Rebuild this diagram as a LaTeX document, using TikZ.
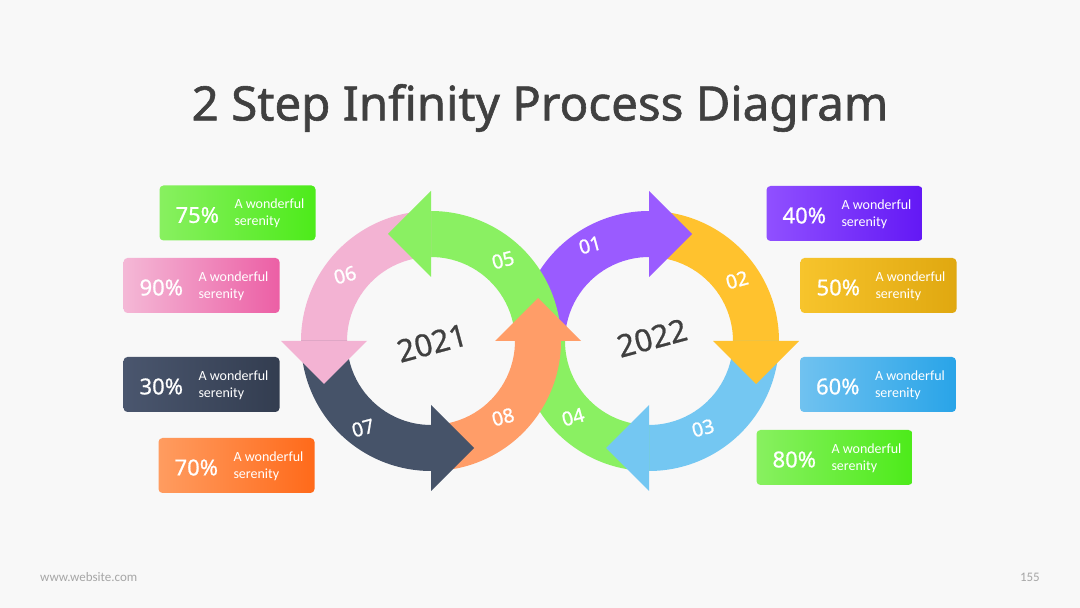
\documentclass[tikz,border=0pt]{standalone}
\usepackage{fontspec}
\setmainfont{Noto Sans}
\newfontfamily\semib[FakeBold=1.2]{Noto Sans}
\newfontfamily\semic[FakeBold=0.8]{Noto Sans}
\newfontfamily\boxfont{Carlito}
\usetikzlibrary{calc}
\definecolor{bgc}{HTML}{F8F8F8}
\definecolor{titlec}{HTML}{404040}
\definecolor{cpurple}{HTML}{9A5BFF}
\definecolor{cyellow}{HTML}{FFC22E}
\definecolor{cblue}{HTML}{74C7F2}
\definecolor{cgreen}{HTML}{8AF062}
\definecolor{cpink}{HTML}{F3B3D3}
\definecolor{cnavy}{HTML}{465369}
\definecolor{corange}{HTML}{FF9D68}
\definecolor{gA}{HTML}{88F060}\definecolor{gB}{HTML}{4DEB1A}
\definecolor{pA}{HTML}{F4B8D6}\definecolor{pB}{HTML}{EC5FA5}
\definecolor{nA}{HTML}{4A566E}\definecolor{nB}{HTML}{333D50}
\definecolor{oA}{HTML}{FF9C60}\definecolor{oB}{HTML}{FF6A1A}
\definecolor{uA}{HTML}{9050FF}\definecolor{uB}{HTML}{6318F5}
\definecolor{yA}{HTML}{F7C42C}\definecolor{yB}{HTML}{E0A810}
\definecolor{bA}{HTML}{70C2F0}\definecolor{bB}{HTML}{29A4E8}
\newcommand\ringbody[4]{\fill[#4] ($(#1)+(#2:130)$) arc[start angle=#2,end angle=#3,radius=130] -- ($(#1)+(#3:84)$) arc[start angle=#3,end angle=#2,radius=84] -- cycle;}
\newcommand\ringhead[4]{\fill[#4] ($(#1)+(#2:150)$) -- ($(#1)+(#2:107)+(#2#3:43)$) -- ($(#1)+(#2:64)$) -- cycle;}
\newcommand\pbox[6]{%
  \node[pctbox, left color=#4, right color=#5] (#1) at (#2,#3) {};
  \node[pcttext] (#1p) at ($(#1.west)+(38,-2)$) {#6\%};
  \node[smalltext, anchor=west] (#1a) at ($(#1.west)+(75,9)$) {A wonderful};
  \node[smalltext, anchor=west] (#1b) at ($(#1.west)+(75,-9)$) {serenity};
}
\tikzset{
  pctbox/.style={rounded corners=4pt, minimum width=156pt, minimum height=55pt, inner sep=0pt},
  pcttext/.style={text=white, font=\semic\fontsize{22}{26}\selectfont, inner sep=0pt},
  smalltext/.style={text=white, font=\boxfont\fontsize{14}{15}\selectfont, inner sep=0pt},
  numlabel/.style={text=white, font=\semib\fontsize{19.5}{22}\selectfont, rotate=15, inner sep=0pt},
  yearlabel/.style={text=titlec, font=\semic\fontsize{31}{36}\selectfont, rotate=15, inner sep=0pt},
}
\begin{document}
\begin{tikzpicture}[x=1pt,y=1pt]
\fill[bgc] (0,0) rectangle (1080,608);
\useasboundingbox (0,0) rectangle (1080,608);
\node[text=titlec, font=\semib\fontsize{47.5}{52}\selectfont] (title) at (540,500) {2 Step Infinity Process Diagram};
\coordinate (L) at (431,267);
\coordinate (R) at (649,267);
% bodies right circle
\ringbody{R}{180}{89}{cpurple}
\ringbody{R}{90}{-1}{cyellow}
\ringbody{R}{0}{-91}{cblue}
\ringbody{R}{-90}{-180}{cgreen}
% bodies left circle
\ringbody{L}{0}{91}{cgreen}
\ringbody{L}{90}{181}{cpink}
\ringbody{L}{180}{271}{cnavy}
\ringbody{L}{270}{361}{corange}
% heads
\ringhead{R}{90}{-90}{cpurple}
\ringhead{R}{0}{-90}{cyellow}
\ringhead{R}{-90}{-90}{cblue}
\ringhead{L}{90}{+90}{cgreen}
\ringhead{L}{180}{+90}{cpink}
\ringhead{L}{270}{+90}{cnavy}
\ringhead{L}{360}{+90}{corange}
% labels
\node[numlabel] (n01) at (590,363) {01};
\node[numlabel] (n02) at (737,328) {02};
\node[numlabel] (n03) at (703,180) {03};
\node[numlabel] (n04) at (573,191) {04};
\node[numlabel] (n05) at (503,348) {05};
\node[numlabel] (n06) at (345,333) {06};
\node[numlabel] (n07) at (363,180) {07};
\node[numlabel] (n08) at (503,191) {08};
\node[yearlabel] (y1) at (432,265) {2021};
\node[yearlabel] (y2) at (652,270) {2022};
% boxes
\pbox{b75}{237.5}{395}{gA}{gB}{75}
\pbox{b90}{201.5}{322.5}{pA}{pB}{90}
\pbox{b30}{201.5}{223.5}{nA}{nB}{30}
\pbox{b70}{236.5}{142.5}{oA}{oB}{70}
\pbox{b40}{844.5}{394.5}{uA}{uB}{40}
\pbox{b50}{878.5}{322.5}{yA}{yB}{50}
\pbox{b60}{878}{223.5}{bA}{bB}{60}
\pbox{b80}{834.5}{150.5}{gA}{gB}{80}
% footer
\node[text=black!35, font=\boxfont\fontsize{13}{14}\selectfont, anchor=west, inner sep=0pt] (web) at (40,31) {www.website.com};
\node[text=black!35, font=\boxfont\fontsize{13}{14}\selectfont, anchor=east, inner sep=0pt] (page) at (1040,31) {155};
\end{tikzpicture}
\end{document}
